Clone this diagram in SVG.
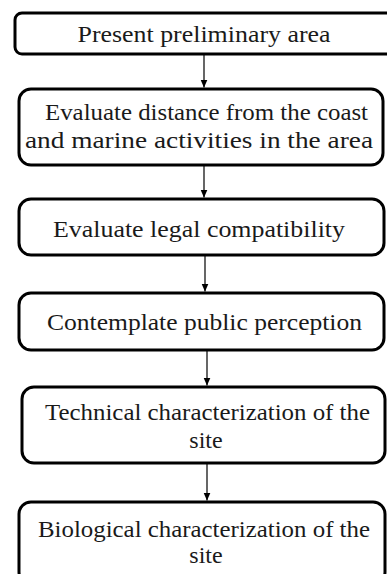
<svg xmlns="http://www.w3.org/2000/svg" width="387" height="574" viewBox="0 0 387 574">
<style>
.box{fill:#fff;stroke:#000;stroke-width:3}
.t{font-family:"Liberation Serif","Times New Roman",serif;font-size:24px;fill:#1a1a1a;text-anchor:middle}
.c{stroke:#000;stroke-width:1.2;fill:none}
</style>
<defs>
<marker id="ah" markerUnits="userSpaceOnUse" markerWidth="8" markerHeight="8" refX="8" refY="3.5" orient="auto">
<path d="M0,0 L8,3.5 L0,7 z" fill="#000"/>
</marker>
</defs>
<rect width="387" height="574" fill="#fff"/>
<g id="connectors">
<line class="c" x1="204" y1="55" x2="204" y2="87.5" marker-end="url(#ah)"/>
<line class="c" x1="204" y1="166" x2="204" y2="197.5" marker-end="url(#ah)"/>
<line class="c" x1="205" y1="256" x2="205" y2="291.5" marker-end="url(#ah)"/>
<line class="c" x1="207" y1="351" x2="207" y2="385.5" marker-end="url(#ah)"/>
<line class="c" x1="207" y1="464" x2="207" y2="500.5" marker-end="url(#ah)"/>
</g>
<g id="n1">
<rect class="box" x="15" y="13" width="385" height="41" rx="7"/>
<text class="t" x="204" y="42" textLength="253" lengthAdjust="spacingAndGlyphs">Present preliminary area</text>
</g>
<g id="n2">
<rect class="box" x="19" y="89" width="364" height="76" rx="12"/>
<text class="t" x="206.5" y="120" textLength="323" lengthAdjust="spacingAndGlyphs">Evaluate distance from the coast</text>
<text class="t" x="199" y="148" textLength="348" lengthAdjust="spacingAndGlyphs">and marine activities in the area</text>
</g>
<g id="n3">
<rect class="box" x="19" y="199" width="365" height="56" rx="12"/>
<text class="t" x="199" y="237" textLength="292" lengthAdjust="spacingAndGlyphs">Evaluate legal compatibility</text>
</g>
<g id="n4">
<rect class="box" x="19" y="293" width="365" height="57" rx="12"/>
<text class="t" x="204.5" y="330" textLength="315" lengthAdjust="spacingAndGlyphs">Contemplate public perception</text>
</g>
<g id="n5">
<rect class="box" x="22" y="387" width="363" height="76" rx="12"/>
<text class="t" x="207.5" y="420" textLength="325" lengthAdjust="spacingAndGlyphs">Technical characterization of the</text>
<text class="t" x="206" y="448">site</text>
</g>
<g id="n6">
<rect class="box" x="19" y="502" width="366" height="82" rx="12"/>
<text class="t" x="204" y="537" textLength="332" lengthAdjust="spacingAndGlyphs">Biological characterization of the</text>
<text class="t" x="206" y="563">site</text>
</g>
</svg>
